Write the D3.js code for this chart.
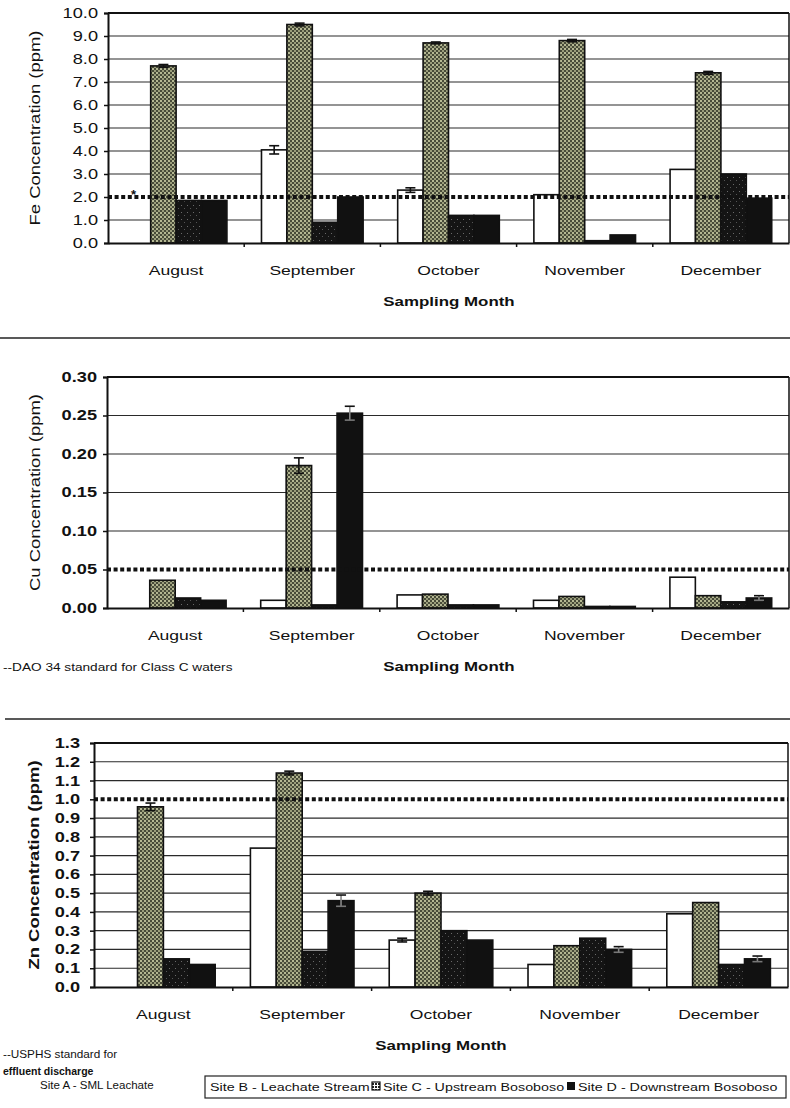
<!DOCTYPE html>
<html><head><meta charset="utf-8">
<script src="https://cdn.jsdelivr.net/npm/d3@7"></script>
<style>
html,body{margin:0;padding:0;background:#fff;}
svg{display:block;font-family:"Liberation Sans",Arial,sans-serif;}
</style></head>
<body>
<svg id="chart" width="790" height="1108"></svg>
<script>
// ---------- data ----------
const months = ["August","September","October","November","December"];
const sites = ["Site A - SML Leachate","Site B - Leachate Stream","Site C - Upstream Bosoboso","Site D - Downstream Bosoboso"];

const feA = [0, 4.05, 2.3, 2.1, 3.2];
const feB = [7.7, 9.5, 8.7, 8.8, 7.4];
const feC = [1.85, 0.9, 1.2, 0.1, 3.0];
const feD = [1.85, 2.0, 1.2, 0.35, 1.95];
const feErrA = [0, 0.18, 0.1, 0, 0];
const feErrB = [0.06, 0.06, 0.04, 0.05, 0.06];
const feErrC = [0, 0, 0, 0, 0];
const feErrD = [0, 0, 0, 0, 0];
const feTicks = [0,1,2,3,4,5,6,7,8,9,10];
const feStandard = 2.0;

const cuA = [0, 0.010, 0.017, 0.010, 0.040];
const cuB = [0.036, 0.185, 0.018, 0.015, 0.016];
const cuC = [0.013, 0.004, 0.004, 0.002, 0.008];
const cuD = [0.010, 0.253, 0.004, 0.002, 0.013];
const cuErrA = [0, 0, 0, 0, 0];
const cuErrB = [0, 0.010, 0, 0, 0];
const cuErrC = [0, 0, 0, 0, 0];
const cuErrD = [0, 0.009, 0, 0, 0.003];
const cuTicks = [0, 0.05, 0.10, 0.15, 0.20, 0.25, 0.30];
const cuStandard = 0.05;

const znA = [0, 0.74, 0.25, 0.12, 0.39];
const znB = [0.96, 1.14, 0.50, 0.22, 0.45];
const znC = [0.15, 0.19, 0.30, 0.26, 0.12];
const znD = [0.12, 0.46, 0.25, 0.20, 0.15];
const znErrA = [0, 0, 0.01, 0, 0];
const znErrB = [0.02, 0.01, 0.01, 0, 0];
const znErrC = [0, 0, 0, 0, 0];
const znErrD = [0, 0.03, 0, 0.015, 0.015];
const znTicks = [0,0.1,0.2,0.3,0.4,0.5,0.6,0.7,0.8,0.9,1.0,1.1,1.2,1.3];
const znStandard = 1.0;

// ---------- layout ----------
const svg = d3.select("#chart");
const SX = 1.3; // horizontal stretch of the scanned lettering

const defs = svg.append("defs");
const pB = defs.append("pattern").attr("id","patB").attr("patternUnits","userSpaceOnUse").attr("width",4).attr("height",4);
pB.append("rect").attr("width",4).attr("height",4).attr("fill","#484b39");
pB.append("rect").attr("x",0).attr("y",0).attr("width",2).attr("height",2).attr("fill","#b5b893");
pB.append("rect").attr("x",2).attr("y",2).attr("width",2).attr("height",2).attr("fill","#9a9d7b");
const pC = defs.append("pattern").attr("id","patC").attr("patternUnits","userSpaceOnUse").attr("width",6).attr("height",7);
pC.append("rect").attr("width",6).attr("height",7).attr("fill","#141414");
pC.append("rect").attr("x",1).attr("y",2).attr("width",1).attr("height",1).attr("fill","#6a6a6a");
pC.append("rect").attr("x",4).attr("y",5).attr("width",1).attr("height",1).attr("fill","#555");
const pIcon = defs.append("pattern").attr("id","patIcon").attr("patternUnits","userSpaceOnUse").attr("width",3).attr("height",3);
pIcon.append("rect").attr("width",3).attr("height",3).attr("fill","#fff");
pIcon.append("rect").attr("width",2).attr("height",2).attr("fill","#222");

const fills = ["#ffffff","url(#patB)","url(#patC)","#111111"];

function txt(x, y, s, o) {
  o = o || {};
  return svg.append("text")
    .attr("transform", `translate(${x},${y}) rotate(${o.rot||0}) scale(${o.sx||SX},1)`)
    .attr("text-anchor", o.anchor || "start")
    .attr("font-size", o.size || 13)
    .attr("font-weight", o.bold ? "bold" : "normal")
    .attr("fill", "#111")
    .text(s);
}

const panels = [
  {vals:[feA,feB,feC,feD], errs:[feErrA,feErrB,feErrC,feErrD], ticks:feTicks, fmt:".1f", std:feStandard,
   left:108, right:789, top:13, bottom:243, labelGap:10, tickBold:false,
   title:"Fe Concentration (ppm)", titleBold:false, titleX:40, monthY:275, smY:306, smX:449},
  {vals:[cuA,cuB,cuC,cuD], errs:[cuErrA,cuErrB,cuErrC,cuErrD], ticks:cuTicks, fmt:".2f", std:cuStandard,
   left:107, right:789, top:377, bottom:608, labelGap:10, tickBold:true,
   title:"Cu Concentration (ppm)", titleBold:false, titleX:40, monthY:640, smY:671, smX:449},
  {vals:[znA,znB,znC,znD], errs:[znErrA,znErrB,znErrC,znErrD], ticks:znTicks, fmt:".1f", std:znStandard,
   left:94, right:788, top:743, bottom:987, labelGap:14, tickBold:true,
   title:"Zn Concentration (ppm)", titleBold:true, titleX:39, monthY:1019, smY:1050, smX:441}
];

panels.forEach(p => {
  const dom = [p.ticks[0], p.ticks[p.ticks.length-1]];
  const y = d3.scaleLinear().domain(dom).range([p.bottom, p.top]);
  const x0 = d3.scaleBand().domain(months).range([p.left, p.right]).padding(0);
  const x1 = d3.scaleBand().domain(sites).range([0, x0.bandwidth()]).paddingInner(0).paddingOuter(0.68);
  const g = svg.append("g");

  // grid lines
  g.selectAll("line.grid").data(p.ticks.filter(t => t > dom[0] && t < dom[1] && Math.abs(t - p.std) > 1e-9))
    .join("line").attr("class","grid")
    .attr("x1", p.left).attr("x2", p.right)
    .attr("y1", d => y(d)).attr("y2", d => y(d))
    .attr("stroke","#2a2a2a").attr("stroke-width",1.2);

  // bars
  sites.forEach((s, j) => {
    g.selectAll(null).data(months.map((m,i) => ({m, v:p.vals[j][i], e:p.errs[j][i]})).filter(d => d.v > 0))
      .join("rect")
      .attr("x", d => x0(d.m) + x1(s))
      .attr("y", d => y(d.v))
      .attr("width", x1.bandwidth())
      .attr("height", d => y(0) - y(d.v))
      .attr("fill", fills[j])
      .attr("stroke", "#111").attr("stroke-width", 1.6);
    // error bars
    const eb = months.map((m,i) => ({m, v:p.vals[j][i], e:p.errs[j][i]})).filter(d => d.e > 0);
    const cx = d => x0(d.m) + x1(s) + x1.bandwidth()/2;
    g.selectAll(null).data(eb).join("line")
      .attr("x1", cx).attr("x2", cx)
      .attr("y1", d => y(d.v - d.e)).attr("y2", d => y(d.v + d.e))
      .attr("stroke", j >= 2 ? "#888" : "#111").attr("stroke-width",1.6);
    g.selectAll(null).data(eb).join("line")
      .attr("x1", d => cx(d) - 5).attr("x2", d => cx(d) + 5)
      .attr("y1", d => y(d.v + d.e)).attr("y2", d => y(d.v + d.e))
      .attr("stroke","#111").attr("stroke-width",1.6);
    g.selectAll(null).data(eb).join("line")
      .attr("x1", d => cx(d) - 5).attr("x2", d => cx(d) + 5)
      .attr("y1", d => y(d.v - d.e)).attr("y2", d => y(d.v - d.e))
      .attr("stroke", j >= 2 ? "#777" : "#111").attr("stroke-width",1.6);
  });

  // standard (dotted) line
  g.append("line")
    .attr("x1", p.left).attr("x2", p.right)
    .attr("y1", y(p.std)).attr("y2", y(p.std))
    .attr("stroke","#111").attr("stroke-width",4).attr("stroke-dasharray","4,2.6");

  // frame
  g.append("line").attr("x1",p.left).attr("x2",p.right).attr("y1",p.top).attr("y2",p.top).attr("stroke","#111").attr("stroke-width",2);
  g.append("line").attr("x1",p.right).attr("x2",p.right).attr("y1",p.top).attr("y2",p.bottom).attr("stroke","#111").attr("stroke-width",1.5);

  // y axis
  const ya = d3.axisLeft(y).tickValues(p.ticks).tickFormat(d3.format(p.fmt)).tickSize(4).tickPadding(0);
  const yg = svg.append("g").attr("transform",`translate(${p.left},0)`).call(ya);
  yg.select(".domain").attr("stroke","#111").attr("stroke-width",2);
  yg.selectAll(".tick line").attr("stroke","#111").attr("stroke-width",1.5);
  yg.selectAll(".tick text")
    .attr("x", null)
    .attr("transform", `translate(${-p.labelGap},0) scale(${SX},1)`)
    .attr("font-size", 14).attr("font-weight", p.tickBold ? "bold" : "normal")
    .attr("font-family", '"Liberation Sans",Arial,sans-serif').attr("fill","#111");

  // x axis
  const xa = d3.axisBottom(x0).tickSize(0).tickPadding(0);
  const xg = svg.append("g").attr("transform",`translate(0,${p.bottom})`).call(xa);
  xg.select(".domain").attr("stroke","#111").attr("stroke-width",2);
  xg.selectAll(".tick text")
    .attr("y", null).attr("dy", null)
    .attr("transform", `translate(0,${p.monthY - p.bottom}) scale(${SX},1)`)
    .attr("font-size", 13.5)
    .attr("font-family", '"Liberation Sans",Arial,sans-serif').attr("fill","#111");
  // boundary ticks
  const bounds = months.slice(1).map(m => x0(m));
  xg.selectAll("line.bt").data(bounds).join("line").attr("class","bt")
    .attr("x1", d => d).attr("x2", d => d).attr("y1", 0).attr("y2", 4)
    .attr("stroke","#111").attr("stroke-width",1.5);

  // titles
  txt(p.titleX, (p.top + p.bottom)/2, p.title, {rot:-90, anchor:"middle", size:14, bold:p.titleBold, sx:1.32});
  txt(p.smX, p.smY, "Sampling Month", {anchor:"middle", size:13, bold:true});
});

// asterisk near the Fe standard line
txt(131, 199, "*", {size:13, bold:true, sx:1});

// separators between panels
svg.append("line").attr("x1",0).attr("x2",790).attr("y1",338).attr("y2",338).attr("stroke","#222").attr("stroke-width",1.3);
svg.append("line").attr("x1",5).attr("x2",790).attr("y1",719).attr("y2",719).attr("stroke","#222").attr("stroke-width",1.5);

// notes
txt(3, 671, "--DAO 34 standard for Class C waters", {size:10.5, sx:1.3});
txt(3, 1058, "--USPHS standard for", {size:10.5, sx:1.12});
txt(3, 1075, "effluent discharge", {size:10.5, bold:true, sx:1.0});

// legend
txt(40, 1089, sites[0], {size:10.5, bold:false, sx:1.1});
const lg = svg.append("g");
lg.append("rect").attr("x",205).attr("y",1076).attr("width",581).attr("height",22)
  .attr("fill","none").attr("stroke","#222").attr("stroke-width",1.2);
txt(210, 1091, sites[1], {size:11, sx:1.3});
lg.append("rect").attr("x",372).attr("y",1082).attr("width",8).attr("height",8).attr("fill","url(#patIcon)").attr("stroke","#111").attr("stroke-width",1.2);
txt(383, 1091, sites[2], {size:11, sx:1.3});
lg.append("rect").attr("x",567).attr("y",1082).attr("width",8).attr("height",8).attr("fill","#111");
txt(578, 1091, sites[3], {size:11, sx:1.3});
</script>
</body></html>
